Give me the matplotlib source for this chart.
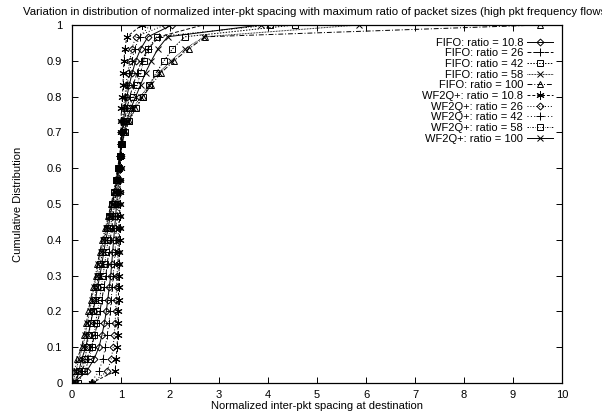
import matplotlib
matplotlib.use("Agg")
import matplotlib.pyplot as plt

plt.rcParams['font.family'] = ['Liberation Sans', 'DejaVu Sans']

# cumulative distribution levels (shared by every curve)
cdf = [0, .033, .067, .1, .133, .167, .2, .233, .267, .3, .333, .367, .4, .433, .467,
       .5, .533, .567, .6, .633, .667, .7, .733, .767, .8, .833, .867, .9, .933, .967, 1.0]

# normalized inter-pkt spacing, one list per flow setup
fifo_108 = [0.03, 0.30, 0.45, 0.55, 0.61, 0.66, 0.70, 0.73, 0.76, 0.79, 0.81, 0.83, 0.85, 0.87, 0.89,
            0.91, 0.93, 0.95, 0.96, 0.98, 1.00, 1.02, 1.05, 1.08, 1.12, 1.17, 1.23, 1.30, 1.40, 1.55, 2.04]
fifo_26 = [0.00, 0.20, 0.30, 0.40, 0.46, 0.52, 0.57, 0.61, 0.65, 0.69, 0.72, 0.75, 0.78, 0.81, 0.84,
           0.87, 0.90, 0.92, 0.95, 0.97, 1.00, 1.03, 1.07, 1.12, 1.18, 1.25, 1.33, 1.42, 1.55, 1.78, 2.67]
fifo_42 = [0.05, 0.15, 0.27, 0.30, 0.34, 0.38, 0.42, 0.46, 0.50, 0.54, 0.58, 0.62, 0.66, 0.71, 0.76,
           0.82, 0.86, 0.90, 0.94, 0.98, 1.02, 1.08, 1.17, 1.30, 1.45, 1.58, 1.72, 1.88, 2.05, 2.30, 4.55]
fifo_58 = [0.02, 0.08, 0.14, 0.22, 0.27, 0.31, 0.36, 0.40, 0.45, 0.50, 0.54, 0.59, 0.64, 0.70, 0.75,
           0.81, 0.86, 0.90, 0.94, 0.98, 1.02, 1.07, 1.14, 1.25, 1.40, 1.57, 1.77, 2.02, 2.30, 2.70, 5.85]
fifo_100 = [0.00, 0.05, 0.10, 0.20, 0.24, 0.29, 0.33, 0.38, 0.43, 0.48, 0.52, 0.57, 0.62, 0.68, 0.74,
            0.80, 0.85, 0.89, 0.93, 0.97, 1.01, 1.08, 1.16, 1.28, 1.45, 1.62, 1.82, 2.08, 2.38, 2.72, 9.55]
wf_108 = [0.40, 0.88, 0.90, 0.92, 0.93, 0.94, 0.94, 0.95, 0.95, 0.96, 0.96, 0.96, 0.97, 0.97, 0.97,
          0.98, 0.98, 0.98, 0.99, 0.99, 0.99, 1.00, 1.00, 1.01, 1.03, 1.04, 1.05, 1.06, 1.08, 1.12, 1.42]
wf_26 = [0.40, 0.72, 0.80, 0.84, 0.86, 0.88, 0.89, 0.90, 0.91, 0.92, 0.93, 0.94, 0.94, 0.95, 0.95,
         0.96, 0.97, 0.97, 0.98, 0.99, 1.00, 1.01, 1.03, 1.05, 1.08, 1.10, 1.14, 1.18, 1.22, 1.30, 1.90]
wf_42 = [0.38, 0.55, 0.63, 0.68, 0.72, 0.75, 0.78, 0.80, 0.82, 0.84, 0.86, 0.88, 0.89, 0.90, 0.92,
         0.93, 0.94, 0.96, 0.97, 0.98, 0.99, 1.01, 1.03, 1.06, 1.09, 1.13, 1.17, 1.22, 1.28, 1.38, 1.60]
wf_58 = [0.12, 0.25, 0.36, 0.40, 0.44, 0.48, 0.52, 0.56, 0.60, 0.63, 0.67, 0.70, 0.74, 0.78, 0.82,
         0.86, 0.89, 0.92, 0.95, 0.98, 1.01, 1.05, 1.10, 1.17, 1.25, 1.33, 1.40, 1.46, 1.55, 1.73, 4.05]
wf_100 = [0.08, 0.14, 0.20, 0.28, 0.33, 0.38, 0.43, 0.48, 0.52, 0.57, 0.61, 0.65, 0.69, 0.74, 0.78,
          0.83, 0.87, 0.91, 0.95, 0.98, 1.02, 1.06, 1.12, 1.20, 1.30, 1.40, 1.50, 1.62, 1.75, 1.95, 3.85]

labels = ['FIFO: ratio = 10.8', 'FIFO: ratio = 26', 'FIFO: ratio = 42', 'FIFO: ratio = 58',
          'FIFO: ratio = 100', 'WF2Q+: ratio = 10.8', 'WF2Q+: ratio = 26', 'WF2Q+: ratio = 42',
          'WF2Q+: ratio = 58', 'WF2Q+: ratio = 100']
series = [fifo_108, fifo_26, fifo_42, fifo_58, fifo_100, wf_108, wf_26, wf_42, wf_58, wf_100]

# gnuplot-ish point / dash types
markers = ['D', '+', 's', 'x', '^', (6, 2, 0), 'D', '+', 's', 'x']
msizes = [3.5, 5.5, 4.8, 4.8, 4.8, 5.8, 3.5, 5.5, 4.8, 4.8]
dashes = ['-', (0, (4, 2)), (0, (1.5, 1.5)), (0, (0.8, 0.8)), (0, (5, 2, 1, 2)),
          (0, (3, 2)), (0, (1, 2)), (0, (1, 2.5)), (0, (1.5, 1.5, 0.5, 1.5)), '-']

fig = plt.figure(figsize=(6.02, 4.15), dpi=100)
ax = fig.add_axes([0.1196, 0.0771, 0.8140, 0.8627])

for xs, lab, mk, ms, ls in zip(series, labels, markers, msizes, dashes):
    ax.plot(xs, cdf, color='black', linewidth=0.7, linestyle=ls, marker=mk,
            markersize=ms, markerfacecolor='none', markeredgewidth=0.7, label=lab)

ax.set_xlim(0, 10)
ax.set_ylim(0, 1)
ax.set_xticks(range(0, 11))
ax.set_yticks([0, 0.1, 0.2, 0.3, 0.4, 0.5, 0.6, 0.7, 0.8, 0.9, 1])
ax.set_yticklabels(['0', '0.1', '0.2', '0.3', '0.4', '0.5', '0.6', '0.7', '0.8', '0.9', '1'])
ax.tick_params(direction='in', length=4, width=0.7, top=True, right=True, labelsize=8)
ax.tick_params(axis='y', pad=7)
ax.tick_params(axis='x', pad=5)
for sp in ax.spines.values():
    sp.set_linewidth(0.9)

ax.set_xlabel('Normalized inter-pkt spacing at destination', fontsize=8, labelpad=1)
ax.set_ylabel('Cumulative Distribution', fontsize=8, labelpad=17)
ax.set_title('Variation in distribution of normalized inter-pkt spacing with maximum ratio '
             'of packet sizes (high pkt frequency flows)', fontsize=8.2, pad=7)

leg = ax.legend(loc='upper right', bbox_to_anchor=(0.982, 0.965), frameon=False,
                markerfirst=False, fontsize=8, labelspacing=0.06, handlelength=2.4,
                handletextpad=0.3, borderpad=0, borderaxespad=0)

fig.savefig('out.png', dpi=100)
